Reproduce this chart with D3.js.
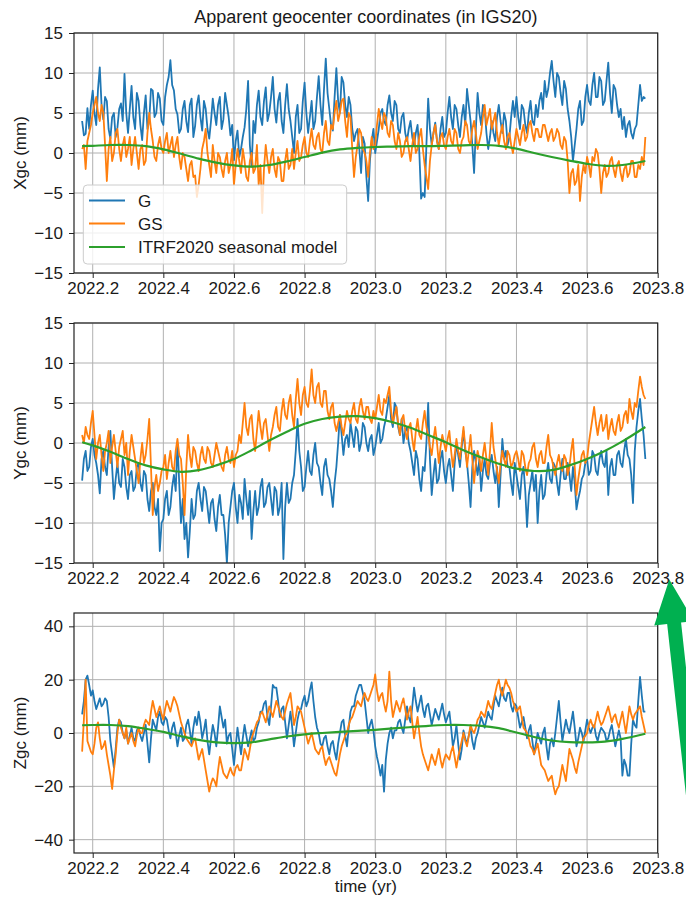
<!DOCTYPE html>
<html>
<head>
<meta charset="utf-8">
<script src="https://cdn.jsdelivr.net/npm/d3@7"></script>
<style>
  html, body { margin: 0; padding: 0; background: #ffffff; }
  svg { display: block; }
  text { font-family: "Liberation Sans", Arial, Helvetica, sans-serif; fill: #1a1a1a; }
</style>
</head>
<body>
<svg id="chart" width="686" height="901"></svg>
<script>
// Solution samples, one value every 0.005 yr starting at 2022.17
const startYear = 2022.17;
const stepYear = 0.005;

const xTicks = [2022.2, 2022.4, 2022.6, 2022.8, 2023.0, 2023.2, 2023.4, 2023.6, 2023.8];
const xyTicks = [-15, -10, -5, 0, 5, 10, 15];
const zTicks = [-40, -20, 0, 20, 40];

const seriesNames = ["G", "GS", "ITRF2020 seasonal model"];
const seriesColors = ["#1f77b4", "#ff7f0e", "#2ca02c"];

// X component (mm)
const xgcG = [
  4.0, 2.2, 2.4, 5.6, 3.0, 6.0,
  7.8, 5.0, 3.5, 8.0, 10.7, 6.0, 4.2, 7.0, 6.5, 3.0, 1.8, 4.5, 5.0, 2.0, 3.2, 5.5, 6.2, 4.0, 9.9, 5.0,
  2.5, 5.5, 8.4, 4.5, 3.0, 7.5, 6.5, 3.5, 1.6, 5.0, 7.2, 3.0, 4.0, 8.0, 7.8, 4.5, 5.0, 7.5, 6.8, 4.0,
  3.5, 7.0, 8.5, 9.5, 11.6, 8.5, 7.8, 5.5, 4.8, 2.5, 3.0, 5.5, 6.5, 4.0, 2.6, 6.0, 6.8, 2.0, 3.4, 6.0,
  7.2, 4.5, 2.8, 6.5, 5.5, 3.0, 1.8, 4.0, 6.8, 5.0, 3.5, 6.0, 7.0, 3.0, 4.2, 7.5, 6.0, 4.5, 2.2, 3.5,
  -0.9, 1.5, 2.8, -0.5, 0.5, 2.0, 3.2, 5.5, 9.0, 1.0, -1.7, 4.0, 2.5, 6.0, 7.8, 4.5, 3.5, 6.5, 8.2, 4.0,
  5.0, 7.0, 9.5, 5.5, 3.8, 6.5, 7.5, 4.0, 2.5, 6.0, 8.6, 5.5, 4.0, 2.0, 0.0, 4.5, 6.0, 2.5, 3.0, 6.5,
  8.8, 5.0, 2.5, 4.5, 6.5, 3.0, 4.0, 7.0, 9.6, 6.0, 3.5, 8.0, 11.8, 7.5, 5.5, 3.5, 2.8, 7.0, 10.6, 6.5,
  5.0, 9.5, 8.8, 6.0, 4.5, 7.0, 6.0, 3.0, 1.5, 2.5, 3.0, 0.5, -2.5, 2.0, 1.2, -3.0, -6.0, -1.0, 1.5, 3.0,
  0.0, 1.5, 3.0, 5.0, 5.5, 4.0, 3.5, 6.0, 7.2, 5.0, 4.0, 6.5, 6.0, 3.0, 2.5, 4.5, 5.0, 2.5, 1.5, 3.0,
  4.0, 2.0, 1.0, 2.5, 3.5, 0.0, -5.7, -5.0, -5.5, 1.0, 6.8, 3.0, 1.0, 2.5, 3.8, 1.5, 0.5, 3.0, 4.5, 2.0,
  2.5, 5.0, 7.0, 4.5, 3.0, 6.0, 5.5, 3.5, 2.0, 4.5, 6.0, 3.5, 8.0, 6.0, 4.0, 1.0, -2.5, 3.0, 7.5, 5.0,
  3.5, 6.0, 5.5, 2.5, 0.5, 2.0, 4.0, 2.5, 1.5, 4.5, 6.0, 4.0, 2.5, 5.0, 4.0, 1.0, 2.0, 4.5, 6.5, 4.5,
  7.0, 4.5, 3.0, 6.0, 5.5, 3.5, 2.5, 5.0, 6.5, 4.0, 3.5, 6.0, 4.5, 6.5, 7.5, 5.5, 9.0, 7.0, 8.0, 10.0,
  11.5, 9.0, 7.0, 10.0, 9.5, 7.5, 6.0, 9.0, 8.0, 5.5, 4.0, 2.0, -1.0, 1.0, 3.0, 5.5, 6.5, 3.5, 4.0, 7.0,
  8.5, 6.5, 6.0, 8.5, 10.0, 7.0, 7.0, 9.5, 9.0, 6.0, 6.5, 9.0, 11.3, 7.5, 5.0, 8.5, 8.0, 6.0, 4.5, 5.5,
  3.0, 4.5, 2.0, 3.5, 4.0, 2.5, 1.8, 3.0, 3.5, 6.0, 8.5, 6.5, 7.0, 6.8
];
const xgcGS = [
  0.5, 1.0, -2.0, 1.5, 2.5, 3.5,
  5.0, 6.0, 7.0, 5.0, 4.0, 6.0, 5.0, 1.0, -3.5, 0.5, 2.0, -1.0, 0.0, 2.5, 3.0, 0.5, -1.0, 1.0, 2.0, -0.5,
  0.5, 2.0, -1.5, 0.5, 2.0, 0.0, -2.0, 0.5, 1.0, -1.5, -1.0, 2.5, 5.0, 3.0, 1.5, -0.5, -1.0, 1.0, 2.0, 0.5,
  0.0, 1.5, 2.5, 0.0, 1.0, 2.0, -0.5, 1.0, 2.0, -0.5, -2.0, 0.0, -0.5, -2.0, -3.5, -1.5, -1.0, -3.0, -2.8, -5.5,
  -4.0, -2.0, 0.5, 1.5, 3.0, 0.0, -1.5, -3.0, 1.0, -1.0, -2.5, 0.0, -0.5, -2.0, -3.0, -1.0, 0.0, -2.5, -1.5, 0.5,
  -4.0, -1.5, 0.5, -1.0, -2.5, 0.5, -1.0, -3.0, -3.5, -1.0, 0.0, -2.5, -2.0, 1.0, -4.0, -1.5, -7.5, -2.0, 1.0, -1.0,
  -2.5, -0.5, 0.5, -2.0, -3.0, -0.5, -1.0, -3.5, -3.5, -1.0, 0.5, -2.0, -1.5, 0.5, -2.0, 0.0, 1.5, -1.0, -0.5, 1.0,
  2.0, 0.0, -0.5, 1.5, 3.0, 1.0, 0.5, 2.0, 2.5, 0.5, 0.0, 2.5, 4.0, 1.5, 1.0, 3.5, 3.0, 5.0, 6.5, 4.0,
  5.0, 6.5, 6.8, 4.0, 2.0, 5.0, 4.5, 0.5, -3.0, -0.5, 1.0, 3.0, 2.5, 0.5, 0.0, -1.0, -3.0, 0.0, 2.0, 0.5,
  1.0, 3.5, 5.5, 4.0, 3.0, 5.0, 4.5, 2.5, 2.0, 4.0, 3.5, 1.5, 0.5, 2.5, 1.5, -0.5, 0.0, 1.5, 2.0, 0.5,
  -1.0, 1.0, 2.5, 0.0, 0.5, 2.0, 3.0, 0.5, -1.5, -3.0, -4.5, -1.0, 1.0, 2.5, 3.5, 1.5, 0.5, 2.0, 2.5, 1.0,
  0.5, 2.0, 3.0, 1.5, 1.0, 3.0, 2.5, 0.5, 0.0, 1.5, 2.0, 4.0, 3.5, 1.5, 1.0, 3.0, 4.0, 2.5, 0.5, 1.5,
  2.5, 4.5, 6.0, 3.5, 4.5, 5.5, 3.0, 4.0, 5.0, 2.5, 1.0, 2.5, 3.5, 1.5, 0.5, 2.0, 2.5, 1.0, 0.0, 1.5,
  3.0, 2.0, 1.0, 2.5, 3.5, 1.5, 2.0, 3.5, 4.0, 2.5, 1.5, 3.0, 3.0, 2.0, 2.0, 3.5, 3.5, 2.5, 1.5, 2.5,
  3.0, 1.5, 2.0, 3.0, 2.5, 1.0, 0.5, 2.0, 1.5, -1.0, -5.0, -2.5, -2.0, -4.0, -3.5, -1.5, -6.0, -3.0, -1.5, -2.5,
  -0.5, -1.5, -3.0, -0.5, -1.0, 0.5, 0.0, -2.0, -5.0, -2.5, -1.5, -3.0, -2.5, -1.0, -0.5, -2.0, -3.0, -1.5, -1.0, -2.5,
  -3.5, -2.0, -1.5, -3.0, -2.5, -1.0, -1.0, -3.0, -3.0, -1.5, -2.0, -0.5, -1.5, 2.0
];

// Y component (mm)
const ygcG = [
  -4.7, -2.0, -1.0, -3.5, -3.0, -0.5,
  0.5, -1.5, -2.5, -4.0, -6.3, -2.0, -1.0, -3.0, -4.0, -0.5, 1.5, -3.0, -7.0, -4.5, -2.5, -5.0, -5.5, -2.0, -3.0, -5.5,
  -7.0, -4.0, -3.5, -6.0, -5.5, -3.0, -2.5, -5.0, -6.0, -3.5, -4.0, -7.0, -8.5, -6.0, -5.0, -8.0, -9.0, -7.0, -13.5, -10.0,
  -9.5, -7.0, -6.0, -9.0, -8.0, -5.5, -4.0, -6.0, 0.0, -5.0, -10.0, -7.0, -12.0, -10.0, -14.3, -11.0, -7.0, -9.5, -9.0, -6.0,
  -5.0, -7.0, -8.5, -5.5, -6.0, -8.0, -10.0, -7.5, -7.0, -9.5, -11.0, -8.0, -6.5, -9.0, -9.0, -11.5, -15.0, -10.0, -8.0, -6.0,
  -5.0, -8.0, -10.0, -6.5, -7.5, -9.5, -4.5, -7.0, -9.0, -6.0, -12.0, -8.5, -6.0, -9.0, -8.0, -5.5, -4.5, -8.0, -7.5, -5.5,
  -5.0, -7.0, -9.0, -5.5, -6.0, -9.0, -8.0, -5.0, -14.5, -8.0, -5.0, -7.5, -7.0, -5.0, -4.0, -1.0, 3.0, -1.0, -3.0, -6.0,
  -5.5, -3.0, -1.0, -3.5, -4.0, -1.5, 0.0, -2.5, -3.0, -5.0, -6.5, -3.0, -2.0, -4.0, -4.5, -6.0, -8.0, -5.0, -3.0, 0.0,
  3.5, 1.0, -1.5, 0.5, 1.0, -0.5, 2.5, 1.0, -0.5, 2.0, 1.5, -1.0, 0.0, 2.5, 2.0, 0.0, -1.0, 0.5, 1.0, -1.5,
  -0.5, 1.0, 2.5, 0.0, 0.5, 2.0, 3.0, 4.5, 6.0, 3.0, 2.0, 5.0, 4.5, 2.0, 1.0, 3.0, 0.0, 1.5, 2.0, 0.0,
  -1.0, -2.5, -4.0, -1.0, -2.0, -4.5, -6.0, -3.0, -3.5, 0.0, 5.0, -2.0, -6.5, -4.0, -2.0, -5.0, -4.5, -2.0, -1.0, -3.5,
  -5.0, -3.0, -2.0, -4.0, -6.0, -2.5, 0.0, -1.5, -3.0, -0.5, 1.5, -1.0, -2.5, -5.0, -8.0, -3.0, -1.0, -2.5, -4.0, -2.0,
  -6.0, -3.5, -2.0, -4.0, -4.5, -2.5, -1.5, -3.5, -5.0, -3.0, -8.0, -4.0, 0.5, -2.0, -1.0, -3.0, -3.0, -5.0, -6.5, -2.5,
  -4.0, -5.5, -7.0, -4.0, -3.0, -6.0, -10.5, -6.5, -5.0, -3.5, -6.0, -4.0, -10.0, -6.0, -4.0, -7.0, -6.5, -4.0, -2.5, -4.5,
  -5.0, -2.5, -3.0, -5.0, -6.5, -4.0, -2.0, -4.5, -4.5, -2.5, -4.0, -6.0, -3.0, -5.0, -8.3, -7.0, -6.0, -4.5, -4.0, -2.5,
  -2.0, -4.0, -3.5, -1.0, -1.5, -3.5, -4.0, -2.0, -1.0, -2.5, -3.0, -1.0, -6.5, -3.0, -2.0, -4.0, -4.0, -1.5, -1.0, -2.5,
  -3.0, -1.0, 0.5, -1.5, -2.0, -4.0, -7.5, -1.0, 2.0, 4.0, 5.5, 3.0, 1.0, -2.0
];
const ygcGS = [
  1.0, 0.0, 2.0, 1.0, 0.5, 2.5,
  4.0, 1.0, -2.0, 0.0, 1.0, -1.5, -3.5, -1.0, 0.0, 1.5, -2.5, -0.5, 1.0, -1.0, -3.0, -0.5, 0.5, 1.5, -1.5, 0.0,
  -4.0, -1.0, 1.0, -0.5, -2.0, -3.5, -5.0, -2.0, 0.0, -2.5, -1.5, 0.5, 3.0, -3.0, -9.0, -5.5, -4.0, -6.0, -5.0, -3.5,
  -3.0, -1.5, -4.5, -2.5, -1.0, -3.0, -3.5, -1.0, 0.5, -1.5, -2.0, -5.0, -9.0, -3.0, 1.0, -1.5, -3.0, -0.5, -1.0, -2.5,
  -3.5, -1.5, -0.5, -2.0, -2.5, -0.5, -1.0, -2.5, -3.0, -1.5, 0.0, -1.0, -2.0, -3.0, -3.5, -1.5, -0.5, -2.0, -2.5, -1.0,
  -3.0, -1.5, -1.0, 1.0, 0.0, 2.5, 5.0, 2.0, 1.0, 3.0, 3.5, 0.5, -1.0, 1.5, 4.0, 2.0, 0.5, 2.5, 3.0, 1.0,
  -1.0, 1.0, 2.0, 3.5, 4.5, 2.0, 1.5, 4.0, 5.5, 3.5, 3.0, 5.0, 6.0, 3.5, 2.0, 5.5, 8.0, 5.0, 3.5, 6.0,
  7.0, 5.0, 4.5, 6.5, 9.2, 6.0, 5.0, 7.0, 7.5, 5.0, 4.5, 6.5, 6.5, 4.0, 3.0, 4.5, 5.0, 2.5, 1.5, 2.5,
  3.5, 2.0, 1.0, 2.5, 4.0, 3.0, 2.5, 4.0, 5.0, 3.0, 2.5, 4.5, 5.5, 4.0, 3.0, 4.5, 4.5, 3.0, 2.5, 4.0,
  3.0, 4.5, 6.0, 4.0, 3.5, 5.5, 5.0, 6.0, 7.0, 4.0, 2.5, 3.5, 4.5, 2.5, 1.0, 3.0, 3.5, 1.5, 0.5, 2.0,
  2.5, 0.5, -1.0, 1.5, 3.0, 1.0, 0.5, 2.5, 4.0, 2.0, 1.0, -0.5, -1.5, 0.5, 2.0, 0.0, -2.5, -0.5, 1.0, 0.0,
  -1.0, 0.5, 1.5, -1.0, -3.0, -1.5, 0.5, -1.0, -2.0, 0.0, 2.0, -0.5, -3.0, -1.0, 1.0, -2.0, -5.0, -2.5, -1.0, -2.0,
  -3.5, -1.5, 0.0, -2.0, -4.0, -1.0, 2.5, -0.5, -2.0, -3.5, -5.0, -2.5, -1.0, -2.0, -3.0, -1.0, -1.5, -3.0, -2.5, -1.5,
  -1.0, -2.0, -3.5, -1.0, -1.5, -3.0, -4.0, -2.5, -2.0, -0.5, 0.0, -2.0, -3.0, -1.5, -1.0, -2.5, -2.5, -0.5, 1.0, -1.5,
  -2.0, -3.0, -4.0, -2.5, -1.5, -3.0, -3.5, -1.5, -2.0, -4.0, -3.0, -1.0, 0.5, -3.0, -6.5, -4.5, -3.0, -1.5, -1.0, -2.5,
  -2.0, 0.0, 1.5, 3.0, 4.5, 2.5, 1.0, 2.5, 3.5, 1.5, 2.0, 3.5, 0.5, 2.0, 3.0, 1.5, 1.0, 2.5, 3.5, 1.5,
  2.0, 3.5, 4.0, 2.5, 5.5, 4.0, 3.0, 5.0, 4.5, 6.5, 8.3, 7.0, 6.0, 5.5
];

// Z component (mm)
const zgcG = [
  7, 12, 20, 21.5, 18, 14,
  16, 12, 9, 11, 13, 10, 11, 13, 12, 6, -3, -8, -13, -6, 2, 5, 4, 0, -2, 1,
  -4, -1, 2, -2, -3, 1, 2, -1, -3, 0, 3, -4, -11, -2, 5, 3, 1, 6, 8, 4,
  3, 6, 5, 1, -2, 2, 4, 0, -5, -1, 2, -3, -2, 3, 5, 1, -4, 2, 6, 3,
  8, 4, -2, 1, 5, -3, -8, -2, 3, 0, -5, 2, 10, 6, 2, 5, -4, -1, 0, -6,
  -12, -5, 2, -3, -8, -2, 3, -1, -5, -2, 1, -3, -2, 2, 4, 8, 8, 11, 12, 6,
  3, 10, 18, 17, 17, 12, 6, 9, 10, 4, -2, 3, 8, 2, -5, 0, 5, 8, 9, 12,
  14, 10, 12, 16, 19, 12, 6, 2, 0, -4, -5, -2, -1, -5, -8, -4, -3, -7, -10, -4,
  0, 4, 5, -1, -5, 2, 8, 10, 10, 14, 16, 18, 18, 15, 12, 6, 0, 3, 5, 1,
  -5, -9, -12, -16, -12, -22, -10, -4, 0, 2, -2, 1, 1, 4, 5, 2, 0, 5, 10, 6,
  4, 10, 17, 12, 8, 11, 14, 9, 6, 10, 11, 7, 3, 6, 9, 7, 5, 8, 11, 7,
  4, 6, 8, 2, -5, -2, 3, -4, -10, -6, 1, -2, -4, -1, 2, -3, -6, -2, 0, 3,
  6, 4, 2, 5, 8, 6, 5, 10, 14, 12, 10, 14, 17, 13, 12, 15, 15, 10, 8, 11,
  10, 6, 2, 4, 6, 2, -2, 1, 3, -3, -8, -4, 0, -2, -4, 0, 2, -5, -10, -4,
  -2, -5, 0, 6, 12, 4, -3, 1, 5, 2, 0, 4, 8, 2, -5, -2, 2, 0, -3, 1,
  5, 2, 0, 2, 3, -1, -3, 0, 2, 1, 0, -3, -2, 1, 3, -1, -5, -2, 1, -2,
  -16, -10, -12, -16, -16, -4, 5, 3, 2, 12, 21, 14, 8, 8
];
const zgcGS = [
  -7, 5, 20, -3, -5, -7,
  -8, -4, 2, 4, -2, -6, -5, -3, -8, -12, -16, -21, -14, -8, 0, 5, 2, 0, -2, 2,
  -4, -2, 0, -3, -5, -1, 2, 0, 0, 3, 5, 4, 3, 8, 12, 9, 6, 8, 10, 7,
  5, 9, 12, 10, 8, 11, 13.5, 12, 10, 7, 4, 2, 0, -2, -3, -4, -5, -3, -2, -6,
  -10, -8, -6, -10, -14, -18, -22, -19, -17, -18, -20, -14, -9, -12, -15, -16, -17, -15, -13, -15,
  -16, -13, -12, -14, -14, -10, -6, -8, -10, -6, -2, 0, 2, 4, 5, 7, 8, 6, 4, 7,
  10, 8, 6, 9, 12, 10, 8, 6, 5, 8, 11, 13, 15, 9, 3, 6, 10, 9, 8, 5,
  2, -1, -4, -2, 0, -3, -6, -7, -8, -6, -5, -9, -12, -10, -9, -11, -13, -15, -16, -12,
  -8, -5, -3, -1, 0, 3, 5, 6, 8, 10, 12, 11, 10, 13, 15, 13, 12, 14, 16, 18,
  22, 16, 12, 14, 15, 11, 8, 12, 23, 12, 6, 9, 12, 10, 8, 11, 13, 9, 5, 8,
  10, 4, -2, 2, 6, 0, -5, -8, -10, -12, -14, -11, -8, -10, -12, -9, -6, -10, -13, -10,
  -8, -9, -10, -7, -5, -9, -13, -9, -6, -3, 0, -3, -5, -1, 3, 1, 0, 2, 5, 6,
  8, 7, 6, 9, 12, 10, 9, 12, 15, 18, 20, 16, 14, 17, 20, 18, 17, 15, 12, 10,
  8, 9, 10, 6, 2, 1, 0, -2, -5, -6, -8, -6, -4, -8, -12, -13, -14, -16, -18, -17,
  -16, -20, -23, -21, -20, -16, -12, -15, -18, -12, -6, -8, -10, -13, -15, -11, -8, -5, -2, -1,
  0, 3, 5, 3, 2, 5, 8, 5, 3, 4, 6, 8, 10, 7, 4, 6, 7, 4, 2, 5,
  8, 4, 0, 5, 10, 7, 5, 7, 8, 9, 10, 6, 3, 0
];

// ITRF2020 seasonal model evaluated at these epochs
const modelYears = [
  2022.17, 2022.20, 2022.25, 2022.30, 2022.35, 2022.40, 2022.45, 2022.50, 2022.55, 2022.60,
  2022.65, 2022.70, 2022.75, 2022.80, 2022.85, 2022.90, 2022.95, 2023.00, 2023.05, 2023.10,
  2023.15, 2023.20, 2023.25, 2023.30, 2023.35, 2023.40, 2023.45, 2023.50, 2023.55, 2023.60,
  2023.65, 2023.70, 2023.765
];
const xgcModel = [
  0.85, 0.9, 1.0, 1.0, 0.85, 0.45, -0.1, -0.7, -1.2, -1.55,
  -1.7, -1.5, -1.05, -0.5, 0.05, 0.45, 0.65, 0.75, 0.8, 0.85,
  0.85, 0.9, 0.95, 1.0, 0.9, 0.55, 0.0, -0.5, -0.95, -1.35,
  -1.6, -1.5, -1.0
];
const ygcModel = [
  0.1, -0.3, -1.1, -2.0, -2.8, -3.3, -3.6, -3.4, -2.8, -2.0,
  -0.9, 0.3, 1.4, 2.4, 3.0, 3.3, 3.35, 3.1, 2.6, 1.9,
  1.0, 0.1, -0.9, -1.8, -2.6, -3.2, -3.5, -3.4, -2.8, -2.0,
  -1.0, 0.2, 2.0
];
const zgcModel = [
  2.9, 3.0, 3.0, 2.6, 1.6, 0.4, -1.2, -2.6, -3.5, -3.8,
  -3.5, -2.4, -1.3, -0.5, 0.0, 0.4, 0.8, 1.2, 1.7, 2.2,
  2.7, 3.0, 3.0, 2.7, 1.8, 0.2, -1.5, -2.8, -3.4, -3.5,
  -3.2, -2.2, -0.3
];

const panels = [
  { label: "Xgc (mm)", domain: [-15, 15], ticks: xyTicks, G: xgcG, GS: xgcGS, model: xgcModel, legend: true },
  { label: "Ygc (mm)", domain: [-15, 15], ticks: xyTicks, G: ygcG, GS: ygcGS, model: ygcModel },
  { label: "Zgc (mm)", domain: [-45, 45], ticks: zTicks, G: zgcG, GS: zgcGS, model: zgcModel, xlabel: "time (yr)" }
];

const svg = d3.select("#chart");
const left = 74, right = 657.7, panelH = 240, panelStep = 290, firstTop = 33;
const fontSize = 17;

const x = d3.scaleLinear().domain([2022.147, 2023.8]).range([left, right]);

svg.append("text")
  .attr("x", (left + right) / 2).attr("y", 23)
  .attr("text-anchor", "middle")
  .attr("font-size", 18)
  .text("Apparent geocenter coordinates (in IGS20)");

const defs = svg.append("defs");

panels.forEach((p, k) => {
  const top = firstTop + k * panelStep;
  const bottom = top + panelH;
  const y = d3.scaleLinear().domain(p.domain).range([bottom, top]);
  const g = svg.append("g");

  const clipId = "plot-clip-" + k;
  defs.append("clipPath").attr("id", clipId)
    .append("rect").attr("x", left).attr("y", top)
    .attr("width", right - left).attr("height", panelH);

  // grid
  const grid = g.append("g").attr("stroke", "#b0b0b0").attr("stroke-width", 1);
  grid.selectAll("line.vx").data(xTicks).join("line")
    .attr("x1", d => x(d)).attr("x2", d => x(d))
    .attr("y1", top).attr("y2", bottom);
  grid.selectAll("line.hy").data(p.ticks).join("line")
    .attr("x1", left).attr("x2", right)
    .attr("y1", d => y(d)).attr("y2", d => y(d));

  // data lines
  const series = g.append("g").attr("clip-path", `url(#${clipId})`);
  const line = d3.line()
    .x((d, i) => x(startYear + i * stepYear))
    .y(d => y(d));
  const modelLine = d3.line()
    .x((d, i) => x(modelYears[i]))
    .y(d => y(d))
    .curve(d3.curveCatmullRom.alpha(0.5));

  series.append("path").datum(p.G)
    .attr("d", line).attr("fill", "none")
    .attr("stroke", seriesColors[0]).attr("stroke-width", 1.8)
    .attr("stroke-linejoin", "round");
  series.append("path").datum(p.GS)
    .attr("d", line).attr("fill", "none")
    .attr("stroke", seriesColors[1]).attr("stroke-width", 1.8)
    .attr("stroke-linejoin", "round");
  series.append("path").datum(p.model)
    .attr("d", modelLine).attr("fill", "none")
    .attr("stroke", seriesColors[2]).attr("stroke-width", 2.2);

  // axes
  const xAxis = d3.axisBottom(x).tickValues(xTicks)
    .tickFormat(d3.format(".1f")).tickSize(5).tickPadding(4);
  const yAxis = d3.axisLeft(y).tickValues(p.ticks)
    .tickFormat(d3.format("d")).tickSize(5).tickPadding(6);

  const gx = g.append("g").attr("transform", `translate(0,${bottom})`).call(xAxis);
  const gy = g.append("g").attr("transform", `translate(${left},0)`).call(yAxis);
  [gx, gy].forEach(a => {
    a.select(".domain").remove();
    a.selectAll(".tick line").attr("stroke", "#222").attr("stroke-width", 1);
    a.selectAll(".tick text")
      .attr("font-size", fontSize)
      .attr("font-family", '"Liberation Sans", Arial, sans-serif')
      .attr("fill", "#1a1a1a");
  });

  // frame
  g.append("rect")
    .attr("x", left).attr("y", top)
    .attr("width", right - left).attr("height", panelH)
    .attr("fill", "none").attr("stroke", "#222").attr("stroke-width", 1.2);

  // y label
  g.append("text")
    .attr("transform", `translate(26,${(top + bottom) / 2}) rotate(-90)`)
    .attr("text-anchor", "middle")
    .attr("font-size", fontSize)
    .text(p.label);

  if (p.xlabel) {
    g.append("text")
      .attr("x", (left + right) / 2).attr("y", bottom + 39)
      .attr("text-anchor", "middle")
      .attr("font-size", fontSize)
      .text(p.xlabel);
  }

  if (p.legend) {
    const lg = g.append("g");
    lg.append("rect")
      .attr("x", 83.3).attr("y", 185)
      .attr("width", 263.4).attr("height", 79)
      .attr("rx", 4).attr("ry", 4)
      .attr("fill", "#ffffff").attr("fill-opacity", 0.8)
      .attr("stroke", "#cccccc").attr("stroke-width", 1);
    const rowsY = [200.5, 223.5, 247];
    seriesNames.forEach((name, i) => {
      lg.append("line")
        .attr("x1", 89).attr("x2", 125)
        .attr("y1", rowsY[i]).attr("y2", rowsY[i])
        .attr("stroke", seriesColors[i]).attr("stroke-width", i === 2 ? 2.2 : 1.8);
      lg.append("text")
        .attr("x", 138).attr("y", rowsY[i] + 6)
        .attr("font-size", fontSize)
        .text(name);
    });
  }
});

// green pointer arrow next to the 2023.8 tick of the middle panel
(function drawArrow() {
  const tipX = x(2023.8) + 11.6;
  const tipY = firstTop + panelStep + panelH + 16.6;
  const len = Math.hypot(0.11, 1);
  const dx = 0.11 / len, dy = 1 / len;   // along the shaft (pointing down)
  const nx = dy, ny = -dx;               // perpendicular
  const headLen = 44, headHalf = 20, shaftHalf = 7, total = 420;
  const pt = (a, b) => [tipX + a * dx + b * nx, tipY + a * dy + b * ny];
  const poly = [
    pt(0, 0), pt(headLen, headHalf), pt(headLen, shaftHalf),
    pt(total, shaftHalf), pt(total, -shaftHalf), pt(headLen, -shaftHalf),
    pt(headLen, -headHalf)
  ];
  svg.append("polygon")
    .attr("points", poly.map(q => q.join(",")).join(" "))
    .attr("fill", "#00b050");
})();
</script>
</body>
</html>
